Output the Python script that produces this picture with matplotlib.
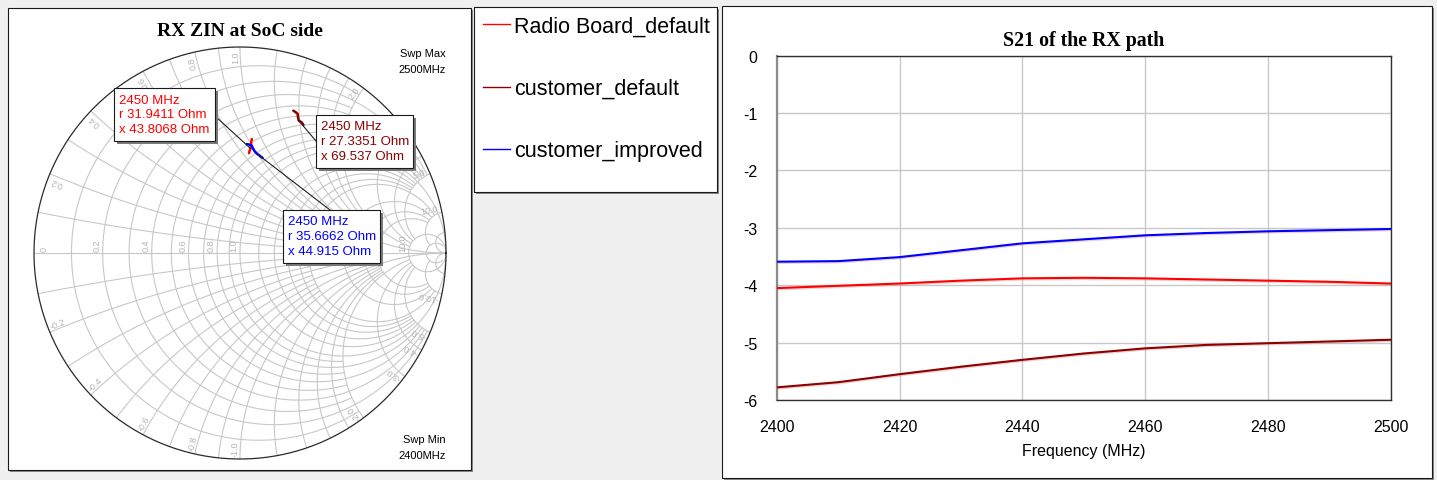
import numpy as np
import matplotlib
matplotlib.use("Agg")
import matplotlib.pyplot as plt
from matplotlib.patches import Rectangle
from matplotlib.lines import Line2D
import matplotlib.patheffects as pe

plt.rcParams["font.family"] = ["Liberation Sans", "DejaVu Sans"]
plt.rcParams["axes.unicode_minus"] = False

W, H, DPI = 1437, 481, 100

# ---------------- data ----------------
freq_mhz = [2400, 2410, 2420, 2430, 2440, 2450, 2460, 2470, 2480, 2490, 2500]
series_names = ["Radio Board_default", "customer_default", "customer_improved"]
series_colors = ["#ff0000", "#8b0000", "#0000ff"]

# S21 of the RX path (dB)
s21_radio_default = [-4.05, -4.01, -3.97, -3.92, -3.88, -3.87, -3.88, -3.90, -3.92, -3.94, -3.97]
s21_customer_default = [-5.78, -5.69, -5.55, -5.42, -5.30, -5.19, -5.10, -5.04, -5.01, -4.98, -4.95]
s21_customer_improved = [-3.59, -3.58, -3.51, -3.39, -3.27, -3.20, -3.13, -3.09, -3.06, -3.04, -3.02]

# Input impedance at the SoC side (Ohm)
zin_radio_default_r = [33.2, 32.9, 32.6, 32.4, 32.2, 31.9411, 31.4, 30.8, 30.1, 29.5, 28.9]
zin_radio_default_x = [42.2, 42.5, 42.9, 43.2, 43.5, 43.8068, 44.3, 44.8, 45.3, 45.8, 46.3]
zin_customer_default_r = [22.2, 23.0, 23.9, 25.0, 26.1, 27.3351, 28.0, 28.4, 29.0, 29.5, 30.0]
zin_customer_default_x = [67.3, 68.4, 69.3, 69.3, 69.4, 69.537, 70.4, 71.0, 71.3, 71.6, 71.8]
zin_customer_improved_r = [29.6, 30.4, 31.2, 32.4, 33.9, 35.6662, 36.3, 37.0, 37.6, 38.1, 38.6]
zin_customer_improved_x = [43.5, 44.3, 44.9, 44.7, 44.6, 44.915, 45.2, 45.4, 45.6, 45.8, 45.9]

marker_freq = 2450
z0 = 50.0

s21_series = [s21_radio_default, s21_customer_default, s21_customer_improved]
zin_series = [(zin_radio_default_r, zin_radio_default_x),
              (zin_customer_default_r, zin_customer_default_x),
              (zin_customer_improved_r, zin_customer_improved_x)]


def px_rect(x, y, w, h):
    return [x / W, 1 - (y + h) / H, w / W, h / H]


def to_gamma(r_ohm, x_ohm):
    z = (np.asarray(r_ohm, float) + 1j * np.asarray(x_ohm, float)) / z0
    g = (z - 1) / (z + 1)
    return g.real, g.imag


fig = plt.figure(figsize=(W / DPI, H / DPI), dpi=DPI, facecolor="#f0f0f0")

# ---------------- panel backgrounds ----------------
bg = fig.add_axes([0, 0, 1, 1], zorder=0)
bg.set_xlim(0, W)
bg.set_ylim(H, 0)
bg.axis("off")


def panel(x0, y0, x1, y1):
    bg.add_patch(Rectangle((x0 + 2, y0 + 2), x1 - x0, y1 - y0, fc="#8a8a8a", ec="none"))
    bg.add_patch(Rectangle((x0, y0), x1 - x0, y1 - y0, fc="white", ec="#1a1a1a", lw=0.8))


panel(8, 9, 471, 471)
panel(474, 8, 717, 193)
panel(722, 7, 1432, 479)

# ---------------- Smith chart ----------------
sm = fig.add_axes(px_rect(34, 48, 412, 412), zorder=1)
sm.set_xlim(-1, 1)
sm.set_ylim(-1, 1)
sm.axis("off")
sm.patch.set_alpha(0)

grid_kw = dict(color="#c8c8c8", lw=0.8, zorder=1, solid_capstyle="butt")


def r_circle(r, xmax=None, n=500):
    tmax = np.pi / 2 - 1e-4 if xmax is None else np.arctan(xmax / (1 + r))
    x = (1 + r) * np.tan(np.linspace(-tmax, tmax, n))
    return to_gamma(r * z0, x * z0)


def x_arc(x, rmax=None, n=400):
    tmax = np.pi / 2 - 1e-4 if rmax is None else np.arctan(rmax / abs(x))
    r = abs(x) * np.tan(np.linspace(0, tmax, n))
    return to_gamma(r * z0, np.full_like(r, x) * z0)


r_grid = ([(v, 2.0) for v in (0.1, 0.3, 0.5, 0.7, 0.9)] +
          [(v, 5.0) for v in (0.2, 0.4, 0.6, 0.8)] + [(1.0, None)] +
          [(v, 5.0) for v in (1.2, 1.4, 1.6, 1.8)] +
          [(v, 10.0) for v in (2.0, 3.0, 4.0, 5.0)] + [(10.0, None), (20.0, 50.0)])
x_grid = ([(v, 2.0) for v in (0.1, 0.3, 0.5, 0.7, 0.9)] +
          [(v, 5.0) for v in (0.2, 0.4, 0.6, 0.8)] + [(1.0, None)] +
          [(v, 5.0) for v in (1.2, 1.4, 1.6, 1.8)] +
          [(v, 10.0) for v in (2.0, 3.0, 4.0, 5.0)] + [(10.0, 20.0), (20.0, None)])

for r, xm in r_grid:
    gx, gy = r_circle(r, xm)
    sm.plot(gx, gy, clip_on=False, **grid_kw)
for xv, rm in x_grid:
    for s in (1, -1):
        gx, gy = x_arc(s * xv, rm)
        sm.plot(gx, gy, clip_on=False, **grid_kw)
sm.plot([-1, 1], [0, 0], clip_on=False, **grid_kw)

# outer |Gamma| = 1 circle
gx, gy = r_circle(0.0)
sm.plot(gx, gy, color="#2a2a2a", lw=0.9, clip_on=False, zorder=2)

# grid labels (resistance values along the real axis, reactance values at the rim)
lab_kw = dict(fontsize=6.5, color="#b4b4b4", rotation_mode="anchor", zorder=2)
for r in (0.2, 0.4, 0.6, 0.8, 1.0, 10.0):
    g = (r - 1) / (r + 1)
    sm.text(g - 0.006, 0.012, f"{r:.1f}", rotation=90, ha="left", va="bottom", **lab_kw)
sm.text(-0.975, 0.012, "0", rotation=90, ha="left", va="top", **lab_kw)
for xv in (0.2, 0.4, 0.6, 0.8, 1.0, 2.0, 3.0, 4.0, 5.0, 10.0):
    for s in (1, -1):
        gx, gy = to_gamma(0.0, s * xv * z0)
        ang = np.degrees(np.arctan2(gy, gx))
        px, py = 0.985 * gx, 0.985 * gy
        if s > 0:
            sm.text(px, py, f"{xv:.1f}", rotation=ang, ha="right", va="bottom", **lab_kw)
        else:
            sm.text(px, py, f"-{xv:.1f}", rotation=ang + 180, ha="left", va="bottom", **lab_kw)

# impedance traces
for (zr, zx), c in zip(zin_series, series_colors):
    gx, gy = to_gamma(zr, zx)
    sm.plot(gx, gy, color=c, lw=1.8, zorder=4, solid_capstyle="round")

sm.set_title("RX ZIN at SoC side", family="Liberation Serif", fontweight="bold",
             fontsize=14, pad=8.6)

bg.text(446, 54, "Swp Max", ha="right", va="center", fontsize=8)
bg.text(446, 70, f"{freq_mhz[-1]}MHz", ha="right", va="center", fontsize=8)
bg.text(446, 440.5, "Swp Min", ha="right", va="center", fontsize=8)
bg.text(446, 456.5, f"{freq_mhz[0]}MHz", ha="right", va="center", fontsize=8)

# ---------------- S21 plot ----------------
ax = fig.add_axes(px_rect(776.7, 56.7, 614, 344.3), zorder=1)
ax.set_facecolor("white")
for vals, c in zip(s21_series, series_colors):
    ax.plot(freq_mhz, vals, color=c, lw=1.5, zorder=3,
            path_effects=[pe.SimpleLineShadow(offset=(0.6, -0.9), shadow_color="#d08080", alpha=0.35),
                          pe.Normal()])
ax.set_xlim(2400, 2500)
ax.set_ylim(-6, 0)
ax.set_xticks(np.arange(2400, 2501, 20))
ax.set_yticks(np.arange(-6, 0.5, 1))
ax.grid(True, color="#c8c8c8", lw=1.0)
ax.set_axisbelow(True)
ax.tick_params(length=0, labelsize=11.5, pad=14)
for side in ("top", "right", "bottom"):
    ax.spines[side].set_color("#303030")
    ax.spines[side].set_linewidth(1.0)
ax.spines["left"].set_color("#8c8c8c")
ax.spines["left"].set_linewidth(1.6)
ax.set_title("S21 of the RX path", family="Liberation Serif", fontweight="bold",
             fontsize=14.3, pad=7.7)
ax.set_xlabel("Frequency (MHz)", fontsize=11.5)
ax.xaxis.label.set_va("center")
ax.xaxis.set_label_coords(0.5, -(452 - 401) / 344.3)

# ---------------- legend ----------------
handles = [Line2D([], [], color=c, lw=1.0) for c in series_colors]
fig.legend(handles, series_names, loc="upper left", bbox_to_anchor=(483 / W, 1 - 17 / H),
           frameon=False, prop={"family": "Liberation Sans", "size": 15.5},
           handlelength=1.26, handletextpad=0.2, labelspacing=1.91,
           borderpad=0, borderaxespad=0)

# ---------------- marker readouts ----------------
fg = fig.add_axes([0, 0, 1, 1], zorder=3)
fg.set_xlim(0, W)
fg.set_ylim(H, 0)
fg.axis("off")
fg.patch.set_alpha(0)

mi = freq_mhz.index(marker_freq)
readouts = [  # series index, box (x, y, w, h), leader attach point on the box
    (0, (114, 89, 101, 53), (215, 117)),
    (1, (316, 116, 97, 53), (316, 142)),
    (2, (283, 211, 97, 53), (330, 211)),
]
to_fg = fg.transData.inverted()
for si, (bx, by, bw, bh), (axp, ayp) in readouts:
    zr, zx = zin_series[si]
    gx, gy = to_gamma(zr[mi], zx[mi])
    mx, my = to_fg.transform(sm.transData.transform((gx, gy)))
    fg.plot([axp, mx], [ayp, my], color="#202020", lw=0.8, zorder=1)
    fg.add_patch(Rectangle((bx + 3, by + 3), bw, bh, fc="#7a7a7a", ec="none", zorder=2))
    fg.add_patch(Rectangle((bx, by), bw, bh, fc="white", ec="#1a1a1a", lw=0.8, zorder=3))
    lines = [f"{marker_freq} MHz", f"r {zr[mi]:.6g} Ohm", f"x {zx[mi]:.6g} Ohm"]
    for k, t in enumerate(lines):
        fg.text(bx + 5, by + 11.5 + 15 * k, t, color=series_colors[si], fontsize=9.5,
                ha="left", va="center", zorder=4)

fig.savefig("out.png", dpi=DPI, facecolor=fig.get_facecolor())
